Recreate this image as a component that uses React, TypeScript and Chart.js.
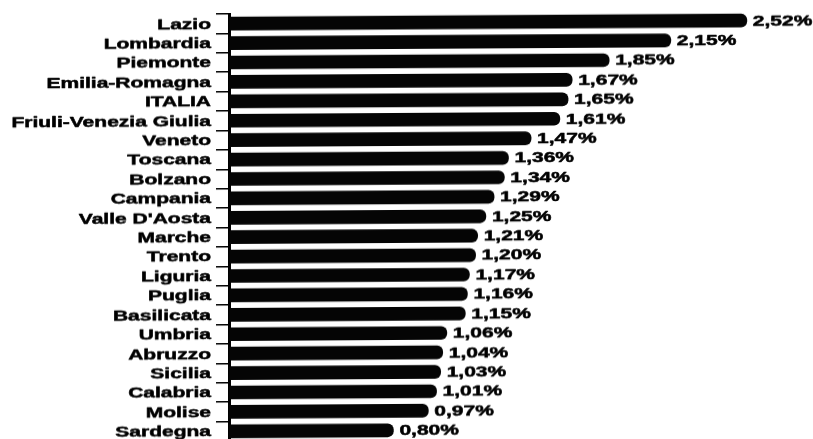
import React, { useEffect, useRef } from "react";
import { Chart, registerables } from "chart.js";

Chart.register(...registerables);

// Regional share (%) — sorted from highest to lowest
const regions = [
  "Lazio",
  "Lombardia",
  "Piemonte",
  "Emilia-Romagna",
  "ITALIA",
  "Friuli-Venezia Giulia",
  "Veneto",
  "Toscana",
  "Bolzano",
  "Campania",
  "Valle D'Aosta",
  "Marche",
  "Trento",
  "Liguria",
  "Puglia",
  "Basilicata",
  "Umbria",
  "Abruzzo",
  "Sicilia",
  "Calabria",
  "Molise",
  "Sardegna",
];

const shares = [
  2.52, 2.15, 1.85, 1.67, 1.65, 1.61, 1.47, 1.36, 1.34, 1.29, 1.25, 1.21, 1.2,
  1.17, 1.16, 1.15, 1.06, 1.04, 1.03, 1.01, 0.97, 0.8,
];

const formatShare = (v: number) => v.toFixed(2).replace(".", ",") + "%";

const WIDTH = 813;
const HEIGHT = 443;
const AXIS_X = 229;
const X_MAX = 2.8;
const PX_PER_UNIT = 205.5;
const FONT = 'bold 14px "Liberation Sans", Arial, Helvetica, sans-serif';
const STRETCH = 1.5;

// Draws wide, heavy category names and value labels next to each bar
const labelPlugin = {
  id: "wideLabels",
  afterDatasetsDraw(chart: any) {
    const { ctx, scales } = chart;
    const xs = scales.x;
    const ys = scales.y;

    const drawText = (text: string, x: number, y: number, align: CanvasTextAlign) => {
      ctx.save();
      ctx.translate(x, y);
      ctx.scale(STRETCH, 1);
      ctx.textAlign = align;
      ctx.fillText(text, 0, 0);
      ctx.strokeText(text, 0, 0);
      ctx.restore();
    };

    ctx.save();
    ctx.font = FONT;
    ctx.fillStyle = "#000";
    ctx.strokeStyle = "#000";
    ctx.lineWidth = 0.5;
    ctx.lineJoin = "round";
    ctx.textBaseline = "middle";
    regions.forEach((name, i) => {
      const py = ys.getPixelForValue(i) + 1;
      drawText(name, AXIS_X - 18, py, "right");
      const px = xs.getPixelForValue(shares[i]);
      drawText(formatShare(shares[i]), px + 6, py, "left");
    });
    ctx.restore();
  },
};

export default function App() {
  const canvasRef = useRef<HTMLCanvasElement | null>(null);

  useEffect(() => {
    document.body.style.margin = "0";
    const canvas = canvasRef.current;
    if (!canvas) return;

    const chart = new Chart(canvas, {
      type: "bar",
      data: {
        labels: regions,
        datasets: [
          {
            data: shares,
            backgroundColor: "#050505",
            borderWidth: 0,
            borderRadius: 6,
            borderSkipped: "start",
            barThickness: 13,
          },
        ],
      },
      options: {
        indexAxis: "y",
        responsive: false,
        animation: false,
        devicePixelRatio: 1,
        layout: {
          padding: {
            top: 14,
            bottom: 2,
            left: 0,
            right: WIDTH - AXIS_X - X_MAX * PX_PER_UNIT,
          },
        },
        scales: {
          x: {
            type: "linear",
            min: 0,
            max: X_MAX,
            display: false,
          },
          y: {
            type: "category",
            display: true,
            ticks: { display: false },
            grid: {
              drawOnChartArea: false,
              drawTicks: true,
              tickLength: 13,
              color: "#000",
              lineWidth: 1.5,
              offset: true,
            },
            border: { display: true, color: "#000", width: 3 },
            afterFit(scale: any) {
              scale.width = AXIS_X;
            },
          },
        },
        plugins: {
          legend: { display: false },
          tooltip: { enabled: false },
        },
      },
      plugins: [labelPlugin],
    });

    return () => chart.destroy();
  }, []);

  return (
    <div
      style={{
        position: "relative",
        width: WIDTH,
        height: 439,
        overflow: "hidden",
        background: "#fff",
      }}
    >
      <canvas
        ref={canvasRef}
        width={WIDTH}
        height={HEIGHT}
        style={{
          display: "block",
          transform: "skewY(-0.35deg)",
          transformOrigin: `${AXIS_X}px 0`,
        }}
      />
    </div>
  );
}
